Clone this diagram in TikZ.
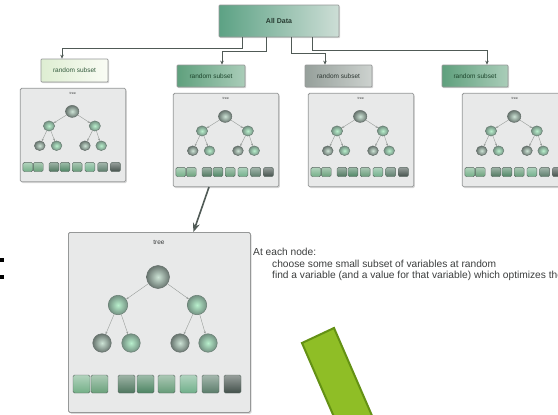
\documentclass[tikz,border=0pt]{standalone}
\usepackage{fontspec}
\setmainfont{Liberation Sans}
\usetikzlibrary{arrows.meta,shadows,calc}
\definecolor{sqa}{RGB}{115,175,135}
\definecolor{sqb}{RGB}{105,160,122}
\definecolor{sqc}{RGB}{78,118,94}
\definecolor{sqd}{RGB}{76,132,98}
\definecolor{sqe}{RGB}{102,155,120}
\definecolor{sqf}{RGB}{112,175,138}
\definecolor{sqg}{RGB}{90,124,106}
\definecolor{sqh}{RGB}{66,80,74}
\definecolor{framec}{RGB}{150,152,152}
\definecolor{panelc}{RGB}{232,233,233}
\definecolor{connc}{RGB}{80,90,86}
\definecolor{textc}{RGB}{60,62,62}
\definecolor{arrowgreen}{RGB}{143,190,38}
\definecolor{arrowgreend}{RGB}{100,145,20}
\tikzset{
  panelbox/.style={draw=framec, fill=panelc, line width=0.8pt, rounded corners=1.5pt, inner sep=0pt,
    drop shadow={opacity=0.3, shadow xshift=1.2pt, shadow yshift=-1.4pt}},
  ballgray/.style={circle, draw={rgb,255:red,100;green,110;blue,106}, line width=0.5pt,
    inner color={rgb,255:red,205;green,228;blue,214}, outer color={rgb,255:red,105;green,118;blue,112}, inner sep=0pt},
  ballmint/.style={circle, draw={rgb,255:red,105;green,125;blue,115}, line width=0.5pt,
    inner color={rgb,255:red,185;green,240;blue,205}, outer color={rgb,255:red,115;green,145;blue,130}, inner sep=0pt},
  treeedge/.style={draw={rgb,255:red,150;green,155;blue,152}, line width=0.4pt, -{Stealth[length=2.5pt,width=2pt]}},
  treelbl/.style={font=\fontsize{6.5}{7}\selectfont, text=textc},
  sqbox/.style={rectangle, minimum width=17pt, minimum height=18pt, rounded corners=1.5pt, inner sep=0pt,
    draw={rgb,255:red,90;green,105;blue,98}, line width=0.4pt},
  conn/.style={draw=connc, line width=0.9pt, -{Stealth[length=4pt,width=3.5pt]}},
  bigconn/.style={draw=connc, line width=1.6pt, -{Stealth[length=9pt,width=7pt]}},
  lblbox/.style={rectangle, draw=framec, line width=0.7pt, inner sep=0pt, rounded corners=0.8pt,
    font=\fontsize{6.5}{7}\selectfont, drop shadow={opacity=0.3, shadow xshift=1pt, shadow yshift=-1.2pt}},
  note/.style={font=\fontsize{10.2}{11}\selectfont, text=textc, anchor=base west, inner sep=0pt},
  pics/treepanel/.style={code={
    \node[panelbox, anchor=north west, minimum width=182pt, minimum height=180pt] (-frame) at (0,0) {};
    \node[treelbl] (-lbl) at (91,-10) {tree};
    \node[ballgray, minimum size=23pt] (-r) at (90,-45) {};
    \node[ballmint, minimum size=19.5pt] (-a) at (50,-73) {};
    \node[ballmint, minimum size=19.5pt] (-b) at (129,-73) {};
    \node[ballgray, minimum size=18.5pt] (-aa) at (34,-111) {};
    \node[ballmint, minimum size=18.5pt] (-ab) at (63,-111) {};
    \node[ballgray, minimum size=18.5pt] (-ba) at (112,-111) {};
    \node[ballmint, minimum size=18.5pt] (-bb) at (140,-111) {};
    \draw[treeedge] (-r) -- (-a);
    \draw[treeedge] (-r) -- (-b);
    \draw[treeedge] (-a) -- (-aa);
    \draw[treeedge] (-a) -- (-ab);
    \draw[treeedge] (-b) -- (-ba);
    \draw[treeedge] (-b) -- (-bb);
    \foreach \x/\c [count=\i] in {5/sqa,23/sqb,50/sqc,69/sqd,90/sqe,112/sqf,134/sqg,156/sqh}
      \node[sqbox, top color=\c!55!white, bottom color=\c] (-s\i) at (\x+8.5,-152) {};
  }}
}
\begin{document}
\begin{tikzpicture}[x=1pt,y=1pt]
\useasboundingbox (0,0) rectangle (558,-415);
\clip (0,0) rectangle (558,-415);
\fill[white] (0,0) rectangle (558,-415);

% top box
\node[lblbox, minimum width=120pt, minimum height=32pt, font=\fontsize{7}{8}\selectfont\bfseries,
  text={rgb,255:red,40;green,60;blue,50},
  left color={rgb,255:red,92;green,162;blue,132}, right color={rgb,255:red,205;green,222;blue,214}] (ad) at (279,-21) {All Data};

% subset boxes
\node[lblbox, minimum width=67pt, minimum height=23pt, text={rgb,255:red,50;green,90;blue,60},
  left color={rgb,255:red,222;green,238;blue,210}, right color={rgb,255:red,250;green,252;blue,245}] (b1) at (74.5,-70.5) {random subset};
\node[lblbox, minimum width=68pt, minimum height=22pt, text={rgb,255:red,30;green,70;blue,45},
  left color={rgb,255:red,95;green,160;blue,125}, right color={rgb,255:red,170;green,205;blue,185}] (b2) at (211,-76) {random subset};
\node[lblbox, minimum width=67pt, minimum height=22pt, text={rgb,255:red,45;green,55;blue,50},
  left color={rgb,255:red,150;green,160;blue,155}, right color={rgb,255:red,205;green,210;blue,207}] (b3) at (338.5,-76) {random subset};
\node[lblbox, minimum width=66pt, minimum height=22pt, text={rgb,255:red,30;green,70;blue,45},
  left color={rgb,255:red,95;green,160;blue,125}, right color={rgb,255:red,170;green,205;blue,185}] (b4) at (475,-76) {random subset};

% connectors from All Data
\draw[conn] ([xshift=24pt]ad.south west) -- ++(0,-11.3) -| ([xshift=-12.5pt]b1.north);
\draw[conn] ([xshift=48pt]ad.south west) -- ++(0,-13.7) -| ([xshift=11pt]b2.north);
\draw[conn] ([xshift=73pt]ad.south west) -- ++(0,-16.3) -| ([xshift=-13.5pt]b3.north);
\draw[conn] ([xshift=94pt]ad.south west) -- ++(0,-13) -| ([xshift=12pt]b4.north);

% tree panels
\pic[xscale=0.58, yscale=0.52, transform shape] (p1) at (20,-88) {treepanel};
\pic[xscale=0.58, yscale=0.52, transform shape] (p2) at (173,-93) {treepanel};
\pic[xscale=0.58, yscale=0.52, transform shape] (p3) at (308,-93) {treepanel};
\pic[xscale=0.58, yscale=0.52, transform shape] (p4) at (462,-93) {treepanel};
\pic (pbig) at (68,-232) {treepanel};

\draw[bigconn] ([xshift=-17pt]p2-frame.south) -- ([xshift=34pt]pbig-frame.north);

% notes
\node[note] (n1) at (253,-255) {At each node:};
\node[note] (n2) at (272,-267) {choose some small subset of variables at random};
\node[note] (n3) at (272,-278.5) {find a variable (and a value for that variable) which optimizes the split};

% green arrow body
\filldraw[fill=arrowgreen, draw=arrowgreend, line width=2pt]
  (302,-343) coordinate (g1) -- (334,-328) coordinate (g2) -- (386,-448) coordinate (g3) -- (354,-463) coordinate (g4) -- cycle;

% cropped marks at left
\fill[black] (0,-258) rectangle (4,-262);
\fill[black] (0,-274.5) rectangle (4,-278.5);
\end{tikzpicture}
\end{document}
